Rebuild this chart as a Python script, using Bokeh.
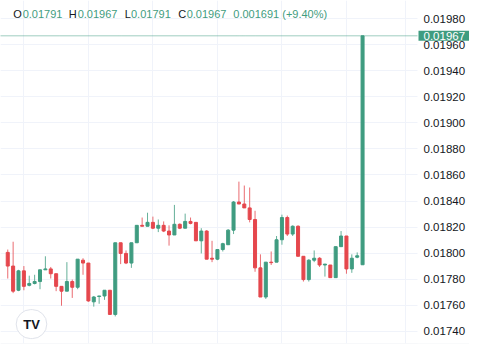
from bokeh.plotting import figure
from bokeh.models import (Range1d, FixedTicker, ColumnDataSource, Label, LabelSet,
                          Span, BoxAnnotation)
from bokeh.core.properties import value
from bokeh.embed import file_html
from bokeh.resources import INLINE

# ---- data (last 67 candles) ----
open_ = [0.018005, 0.017900, 0.017714, 0.017863, 0.017752, 0.017766, 0.017781, 0.017871, 0.017878, 0.017841,
         0.017744, 0.017707, 0.017781, 0.017737, 0.017945, 0.017923, 0.017625, 0.017666, 0.017670, 0.017714,
         0.017528, 0.018079, 0.017997, 0.017923, 0.018079, 0.018213, 0.018206, 0.018236, 0.018191, 0.018213,
         0.018169, 0.018139, 0.018221, 0.018191, 0.018243, 0.018236, 0.018094, 0.018169, 0.017960, 0.017953,
         0.018027, 0.018064, 0.018176, 0.018392, 0.018377, 0.018347, 0.018258, 0.017886, 0.017662, 0.017930,
         0.017930, 0.018102, 0.018273, 0.018146, 0.018206, 0.017975, 0.017796, 0.017945, 0.017960, 0.017908,
         0.017908, 0.017811, 0.018049, 0.018131, 0.017878, 0.017968, 0.017910]
high = [0.018027, 0.018087, 0.017871, 0.017900, 0.017826, 0.017833, 0.017871, 0.017975, 0.017893, 0.017841,
        0.017744, 0.017930, 0.017796, 0.017953, 0.017960, 0.017923, 0.017670, 0.017670, 0.017714, 0.017714,
        0.018079, 0.018079, 0.018020, 0.018079, 0.018213, 0.018273, 0.018310, 0.018280, 0.018258, 0.018243,
        0.018213, 0.018370, 0.018228, 0.018303, 0.018273, 0.018236, 0.018191, 0.018176, 0.018094, 0.018027,
        0.018079, 0.018184, 0.018400, 0.018549, 0.018519, 0.018504, 0.018325, 0.017990, 0.017930, 0.018012,
        0.018131, 0.018295, 0.018288, 0.018213, 0.018213, 0.017975, 0.017953, 0.018020, 0.017968, 0.017915,
        0.017908, 0.018049, 0.018169, 0.018131, 0.017990, 0.018005, 0.019670]
low = [0.017804, 0.017692, 0.017707, 0.017714, 0.017744, 0.017759, 0.017722, 0.017871, 0.017804, 0.017707,
       0.017595, 0.017707, 0.017655, 0.017722, 0.017833, 0.017625, 0.017588, 0.017610, 0.017640, 0.017528,
       0.017513, 0.017915, 0.017915, 0.017886, 0.018079, 0.018206, 0.018206, 0.018184, 0.018161, 0.018161,
       0.018057, 0.018139, 0.018184, 0.018191, 0.018221, 0.018094, 0.017997, 0.017953, 0.017930, 0.017945,
       0.018012, 0.018064, 0.018146, 0.018377, 0.018347, 0.018236, 0.017856, 0.017662, 0.017647, 0.017908,
       0.017930, 0.018064, 0.018131, 0.018131, 0.017975, 0.017781, 0.017781, 0.017930, 0.017893, 0.017819,
       0.017811, 0.017811, 0.018049, 0.017841, 0.017848, 0.017960, 0.017910]
close = [0.017900, 0.017707, 0.017863, 0.017744, 0.017766, 0.017781, 0.017871, 0.017878, 0.017841, 0.017744,
         0.017707, 0.017781, 0.017737, 0.017953, 0.017923, 0.017632, 0.017662, 0.017670, 0.017714, 0.017528,
         0.018079, 0.017997, 0.017923, 0.018079, 0.018213, 0.018206, 0.018236, 0.018191, 0.018213, 0.018169,
         0.018139, 0.018221, 0.018191, 0.018243, 0.018228, 0.018094, 0.018169, 0.017953, 0.017953, 0.018027,
         0.018072, 0.018176, 0.018392, 0.018377, 0.018347, 0.018258, 0.017886, 0.017662, 0.017930, 0.017926,
         0.018102, 0.018273, 0.018146, 0.018206, 0.017975, 0.017796, 0.017945, 0.017960, 0.017908, 0.017915,
         0.017811, 0.018049, 0.018131, 0.017878, 0.017960, 0.017979, 0.019670]

price_ticks = [0.01740, 0.01760, 0.01780, 0.01800, 0.01820, 0.01840, 0.01860,
               0.01880, 0.01900, 0.01920, 0.01940, 0.01960, 0.01980]
time_ticks = [3, 15, 27, 39, 51, 63, 74]
change_text = "0.001691 (+9.40%)"

UP = "#3f9c80"
DOWN = "#e5474d"
GRID = "#f0f3fa"
TXT = "#131722"
FONT = "Liberation Sans"

n = len(open_)
src = ColumnDataSource(dict(
    x=list(range(n)),
    high=high, low=low,
    top=[max(o, c) for o, c in zip(open_, close)],
    bottom=[min(o, c) for o, c in zip(open_, close)],
    color=[UP if c >= o else DOWN for o, c in zip(open_, close)],
))

p = figure(width=469, height=344, output_backend="svg", toolbar_location=None, tools="",
           x_axis_location=None, y_axis_location=None,
           x_range=Range1d(-1.349, 85.89), y_range=Range1d(0.0173046, 0.0199415),
           min_border_left=0, min_border_right=0, min_border_top=0, min_border_bottom=1,
           border_fill_color="#e0e3eb", background_fill_color="white",
           outline_line_color=None)

p.xgrid.ticker = FixedTicker(ticks=time_ticks)
p.ygrid.ticker = FixedTicker(ticks=price_ticks)
p.xgrid.grid_line_color = GRID
p.ygrid.grid_line_color = GRID

# candles
p.segment(x0="x", y0="high", x1="x", y1="low", line_color="color", line_width=1,
          line_alpha=0.8, source=src)
p.vbar(x="x", top="top", bottom="bottom", width=0.56, fill_color="color",
       line_color="color", line_width=1, source=src)

# last price dotted line
p.add_layout(Span(location=close[-1], dimension="width", line_color=UP,
                  line_dash="1 1", line_width=1))

# price scale area (white, no grid)
p.add_layout(BoxAnnotation(left=417, left_units="screen", fill_color="white",
                           fill_alpha=1.0, line_color=None))

# price scale labels
tick_src = ColumnDataSource(dict(y=price_ticks, text=[f"{t:.5f}" for t in price_ticks]))
p.add_layout(LabelSet(x=423, x_units="screen", y="y", text="text", source=tick_src,
                      text_baseline="middle", text_font_size="11.5px",
                      text_color=TXT, text_font=value(FONT)))

# last price box
p.add_layout(Label(x=418, x_units="screen", y=close[-1], text=f"{close[-1]:.5f}",
                   text_color="white", text_font_size="11.5px", text_font=FONT,
                   text_baseline="middle", background_fill_color=UP,
                   padding=(5, 1)))

# OHLC legend
legend_parts = [
    (12.8, "O", TXT), (22.2, f"{open_[-1]:.5f}", UP),
    (68.3, "H", TXT), (77.2, f"{high[-1]:.5f}", UP),
    (124.3, "L", TXT), (130.5, f"{low[-1]:.5f}", UP),
    (177.8, "C", TXT), (186.2, f"{close[-1]:.5f}", UP),
    (232.8, change_text, UP),
]
for lx, txt, col in legend_parts:
    p.add_layout(Label(x=lx, x_units="screen", y=329.4, y_units="screen", text=txt,
                       text_color=col, text_font_size="11px", text_font=FONT,
                       text_baseline="middle"))

# TradingView logo badge
p.add_layout(Label(x=31, x_units="screen", y=19.4, y_units="screen", text="TV",
                   text_color=TXT, text_font_size="13px", text_font=FONT,
                   text_font_style="bold", text_align="center", text_baseline="middle",
                   background_fill_color="white", border_line_color="#e0e3eb",
                   border_radius=15, padding=(7, 7)))

open("out.html", "w").write(file_html(p, INLINE))
